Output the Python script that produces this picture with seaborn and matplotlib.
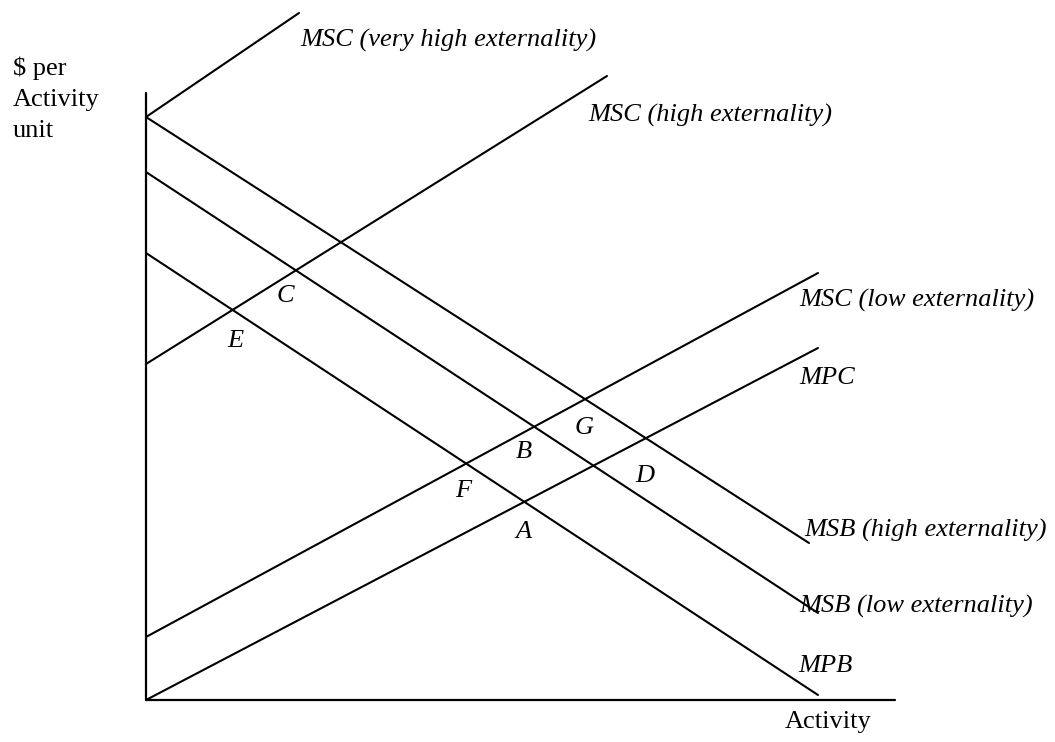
import matplotlib
matplotlib.use("Agg")
import matplotlib.pyplot as plt
import pandas as pd
import seaborn as sns

# Curves of the externality diagram: start and end points (activity, $ per unit)
curve_names = ["MSC (very high externality)", "MSC (high externality)",
               "MSC (low externality)", "MPC",
               "MSB (high externality)", "MSB (low externality)", "MPB"]
x_start = [0, 0, 0, 0, 0, 0, 0]
y_start = [583, 336, 63, 0, 583, 528, 447]
x_end = [153, 461, 672, 672, 663, 672, 672]
y_end = [687, 624, 427, 352, 157, 87, 5]

# where each curve label sits (left edge, baseline)
label_x = [154, 442, 653, 653, 658, 653, 652]
label_y = [653, 578, 393, 316, 163, 87, 28]

# intersection point letters
point_names = ["C", "E", "G", "B", "F", "A", "D"]
point_x = [139, 89, 438, 378, 317, 377, 499]
point_y = [398, 353, 266, 242, 203, 162, 218]

# axis extents
x_axis_len = 749
y_axis_len = 607

rows = []
for name, x0, y0, x1, y1 in zip(curve_names, x_start, y_start, x_end, y_end):
    rows.append({"curve": name, "activity": x0, "price": y0})
    rows.append({"curve": name, "activity": x1, "price": y1})
df = pd.DataFrame(rows)

sns.set_style("white")
plt.rcParams["font.family"] = ["Liberation Serif", "DejaVu Serif"]
plt.rcParams["text.color"] = "black"

fig = plt.figure(figsize=(10.55, 7.42), dpi=100)
ax = fig.add_axes([0, 0, 1, 1])

sns.lineplot(data=df, x="activity", y="price", hue="curve",
             palette=["black"] * len(curve_names), legend=False,
             linewidth=1.5, ax=ax, sort=False)

# the two axes
ax.plot([0, 0], [0, y_axis_len], color="black", lw=1.6)
ax.plot([0, x_axis_len], [0, 0], color="black", lw=1.6)

fs = 19
for name, lx, ly in zip(curve_names, label_x, label_y):
    ax.text(lx, ly, name, fontsize=fs, style="italic", ha="left", va="baseline")

for name, px, py in zip(point_names, point_x, point_y):
    ax.text(px, py, name, fontsize=fs, style="italic", ha="center", va="baseline")

ax.text(639, -28, "Activity", fontsize=fs, ha="left", va="baseline")
for i, line in enumerate(["$ per", "Activity", "unit"]):
    ax.text(-133, 625 - 31 * i, line, fontsize=fs, ha="left", va="baseline")

ax.set_xlim(-146, 909)
ax.set_ylim(-42, 700)
ax.axis("off")

fig.savefig("out.png", dpi=100)
